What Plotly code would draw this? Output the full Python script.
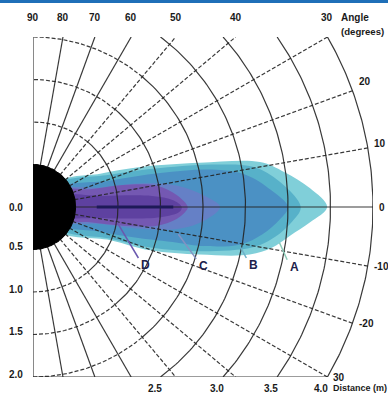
import numpy as np
import plotly.graph_objects as go

# ---------------- data ----------------
arc_distances = [0.5, 1.0, 1.5, 2.0, 2.5, 3.0, 3.5, 4.0]          # m
radial_angles = [80, 70, 60, 50, 40, 30, 20, 10, 0, -10, -20, -30, -40, -50, -60, -70, -80]  # deg
top_angle_ticks = [90, 80, 70, 60, 50, 40, 30]
top_angle_text = ["90", "80", "70", "60", "50", "40", "30"]
right_angle_ticks = [20, 10, 0, -10, -20, -30]
right_angle_text = ["20", "10", "0", "-10", "-20", "30"]
left_dist_ticks = [0.0, 0.5, 1.0, 1.5, 2.0]
left_dist_text = ["0.0", "0.5", "1.0", "1.5", "2.0"]
bottom_dist_ticks = [2.5, 3.0, 3.5, 4.0]
bottom_dist_text = ["2.5", "3.0", "3.5", "4.0"]
max_range = 4.0      # m
half_height = 2.0    # m
sensor_radius = 0.5  # m

# detection zones: closed outlines (distance ahead x, lateral offset y), metres
zone_a_x = [0.30, 0.79, 1.26, 1.96, 2.67, 2.96, 3.26, 3.46, 3.26, 3.02, 2.81, 2.55, 1.96, 1.38, 0.91, 0.30]
zone_a_y = [0.28, 0.39, 0.47, 0.52, 0.53, 0.41, 0.22, 0.00, -0.18, -0.34, -0.48, -0.56, -0.56, -0.51, -0.39, -0.27]
zone_b_x = [0.30, 0.90, 1.50, 2.20, 2.60, 2.90, 3.15, 3.05, 2.85, 2.60, 2.00, 1.40, 0.90, 0.30]
zone_b_y = [0.26, 0.38, 0.46, 0.50, 0.47, 0.30, 0.00, -0.17, -0.35, -0.47, -0.52, -0.48, -0.37, -0.24]
zone_c_x = [0.30, 0.90, 1.50, 2.10, 2.50, 2.80, 3.00, 2.90, 2.70, 2.44, 2.00, 1.70, 1.20, 0.80, 0.30]
zone_c_y = [0.21, 0.31, 0.40, 0.44, 0.38, 0.20, 0.00, -0.15, -0.32, -0.44, -0.46, -0.42, -0.36, -0.29, -0.19]
zone_halo_x = [0.30, 0.80, 1.30, 1.70, 2.00, 2.20, 2.05, 1.75, 1.30, 0.80, 0.30]
zone_halo_y = [0.19, 0.23, 0.28, 0.25, 0.14, 0.00, -0.14, -0.25, -0.26, -0.20, -0.15]
zone_d_x = [0.30, 0.67, 1.06, 1.46, 1.69, 1.82, 1.79, 1.69, 1.46, 1.06, 0.67, 0.30]
zone_d_y = [0.19, 0.21, 0.26, 0.25, 0.14, 0.00, -0.06, -0.14, -0.22, -0.22, -0.18, -0.14]
core_x = [0.30, 0.80, 1.40, 1.65, 1.75, 1.72, 1.50, 0.80, 0.30]
core_y = [0.12, 0.13, 0.13, 0.08, 0.00, -0.06, -0.12, -0.13, -0.09]
axis_line_x = [0.75, 1.65]
axis_line_y = [0.0, 0.0]

zone_labels = ["A", "B", "C", "D"]
leader_start_x = [2.90, 2.44, 1.71, 0.99]
leader_start_y = [-0.42, -0.47, -0.32, -0.18]
leader_end_x = [2.99, 2.51, 1.92, 1.24]
leader_end_y = [-0.62, -0.60, -0.61, -0.60]

# ---------------- figure ----------------
fig = go.Figure()

def add_zone(xs, ys, color):
    fig.add_trace(go.Scatter(x=xs + [xs[0]], y=ys + [ys[0]], mode="lines", fill="toself",
                             fillcolor=color, line=dict(width=0, color=color),
                             line_shape="spline", hoverinfo="skip", showlegend=False,
                             cliponaxis=False))

add_zone(zone_a_x, zone_a_y, "#80cfd9")
add_zone(zone_b_x, zone_b_y, "#57b1c9")
add_zone(zone_c_x, zone_c_y, "#4b91c4")
add_zone(zone_halo_x, zone_halo_y, "#6580c6")
add_zone(zone_d_x, zone_d_y, "#7458b2")
add_zone(core_x, core_y, "#5e41a0")

# grid: arcs and radials
solid_x, solid_y, dash_x, dash_y = [], [], [], []

def add_seg(xl, yl, xs, ys):
    xl.extend(list(xs) + [None])
    yl.extend(list(ys) + [None])

for d in arc_distances:
    if d <= half_height:
        th = np.radians(np.linspace(-50, 50, 80))
        add_seg(solid_x, solid_y, d * np.cos(th), d * np.sin(th))
        for a0, a1 in [(50, 90), (-90, -50)]:
            th = np.radians(np.linspace(a0, a1, 40))
            add_seg(dash_x, dash_y, d * np.cos(th), d * np.sin(th))
    else:
        th_max = np.degrees(np.arcsin(half_height / d))
        th = np.radians(np.linspace(-th_max, th_max, 120))
        add_seg(solid_x, solid_y, d * np.cos(th), d * np.sin(th))

for a in radial_angles:
    if abs(a) <= 30:
        r_end = max_range
    else:
        r_end = half_height / np.sin(np.radians(abs(a)))
    t = np.radians(a)
    xs = [0, r_end * np.cos(t)]
    ys = [0, r_end * np.sin(t)]
    if abs(a) >= 60 or a == 0:
        add_seg(solid_x, solid_y, xs, ys)
    else:
        add_seg(dash_x, dash_y, xs, ys)

# left axis and bottom edge
add_seg(solid_x, solid_y, [0, 0], [-half_height, half_height])
add_seg(solid_x, solid_y, [0, max_range * np.cos(np.radians(30))], [-half_height, -half_height])

fig.add_trace(go.Scatter(x=dash_x, y=dash_y, mode="lines",
                         line=dict(color="rgba(35,35,35,0.9)", width=1.2, dash="4px,2px"),
                         hoverinfo="skip", showlegend=False, cliponaxis=False))
fig.add_trace(go.Scatter(x=solid_x, y=solid_y, mode="lines",
                         line=dict(color="rgba(35,35,35,0.9)", width=1.2),
                         hoverinfo="skip", showlegend=False, cliponaxis=False))

# central dark line
fig.add_trace(go.Scatter(x=axis_line_x, y=axis_line_y, mode="lines",
                         line=dict(color="#1e1a58", width=3),
                         hoverinfo="skip", showlegend=False, cliponaxis=False))

# sensor body
th = np.radians(np.linspace(-90, 90, 100))
fig.add_trace(go.Scatter(x=list(sensor_radius * np.cos(th)) + [0],
                         y=list(sensor_radius * np.sin(th)) + [-sensor_radius],
                         mode="lines", fill="toself", fillcolor="black",
                         line=dict(color="black", width=1),
                         hoverinfo="skip", showlegend=False, cliponaxis=False))

# leader lines
leader_colors = ["#8ccbb8", "#6db0c8", "#8392c2", "#6a58ae"]
for i in range(len(zone_labels)):
    fig.add_trace(go.Scatter(x=[leader_start_x[i], leader_end_x[i]],
                             y=[leader_start_y[i], leader_end_y[i]], mode="lines",
                             line=dict(color=leader_colors[i], width=1.5),
                             hoverinfo="skip", showlegend=False, cliponaxis=False))

font = dict(family="Liberation Sans, Arial, sans-serif", size=10, color="#1a1a1a")
small_font = dict(family="Liberation Sans, Arial, sans-serif", size=9, color="#1a1a1a")
deg_font = dict(family="Liberation Sans, Arial, sans-serif", size=9.6, color="#1a1a1a")
ann = []
for a, txt in zip(top_angle_ticks, top_angle_text):
    x = half_height / np.tan(np.radians(a))
    ann.append(dict(x=x, y=half_height, text="<b>" + txt + "</b>", showarrow=False,
                    xanchor="center", yanchor="middle", yshift=20, font=font))
for a, txt in zip(right_angle_ticks, right_angle_text):
    t = np.radians(a)
    ann.append(dict(x=max_range * np.cos(t), y=max_range * np.sin(t), text="<b>" + txt + "</b>",
                    showarrow=False, xanchor="left", yanchor="middle", xshift=4,
                    yshift=(0.45 * a if a > 0 else 0), font=font))
for d, txt in zip(left_dist_ticks, left_dist_text):
    ann.append(dict(x=0, y=-d, text="<b>" + txt + "</b>", showarrow=False, xanchor="right",
                    yanchor="middle", xshift=-8, yshift=(3 if d > 0 else 0), font=font))
for d, txt in zip(bottom_dist_ticks, bottom_dist_text):
    x = np.sqrt(d ** 2 - half_height ** 2)
    ann.append(dict(x=x, y=-half_height, text="<b>" + txt + "</b>", showarrow=False,
                    xanchor="center", yanchor="middle", xshift=-6, yshift=-11, font=font))
x30 = max_range * np.cos(np.radians(30))
ann.append(dict(x=x30, y=-half_height, text="<b>Distance (m)</b>", showarrow=False,
                xanchor="left", yanchor="middle", xshift=4, yshift=-11, font=small_font))
ann.append(dict(x=x30, y=half_height, text="<b>Angle</b>", showarrow=False,
                xanchor="left", yanchor="middle", xshift=12, yshift=20, font=font))
ann.append(dict(x=x30, y=half_height, text="<b>(degrees)</b>", showarrow=False,
                xanchor="left", yanchor="middle", xshift=12, yshift=6, font=deg_font))
letter_font = dict(family="Liberation Sans, Arial, sans-serif", size=12, color="#20204a")
for i, lab in enumerate(zone_labels):
    ann.append(dict(x=leader_end_x[i], y=leader_end_y[i], text="<b>" + lab + "</b>",
                    showarrow=False, xanchor="left", yanchor="top", xshift=1, yshift=2,
                    font=letter_font))

fig.update_layout(
    width=388, height=395,
    margin=dict(l=33, r=15, t=37, b=18),
    paper_bgcolor="white", plot_bgcolor="white",
    xaxis=dict(range=[0, max_range], visible=False, fixedrange=True),
    yaxis=dict(range=[-half_height, half_height], visible=False, fixedrange=True),
    showlegend=False,
    annotations=ann,
    shapes=[dict(type="rect", xref="paper", yref="paper",
                 x0=-33 / 340, x1=1 + 15 / 340, y0=1 + 34 / 340, y1=1 + 37 / 340,
                 fillcolor="#1f6fb8", line=dict(width=0), layer="above")],
)

fig.write_html("out.html", config={"displayModeBar": False},
               post_script="document.body.style.margin='0';document.body.style.padding='0';"
                           "document.body.style.overflow='hidden';")
